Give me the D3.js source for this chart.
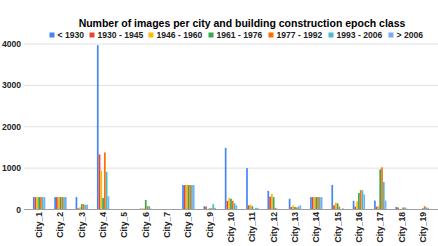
<!DOCTYPE html>
<html><head><meta charset="utf-8">
<script src="https://cdn.jsdelivr.net/npm/d3@7"></script>
<style>
html,body{margin:0;padding:0;background:#fff;}
svg{display:block;font-family:"Liberation Sans",Arial,sans-serif;}
</style></head>
<body><svg id="chart" width="438" height="246"></svg>
<script>
const cities = ["City_1","City_2","City_3","City_4","City_5","City_6","City_7","City_8","City_9","City_10","City_11","City_12","City_13","City_14","City_15","City_16","City_17","City_18","City_19"];
const epochs = ["< 1930","1930 - 1945","1946 - 1960","1961 - 1976","1977 - 1992","1993 - 2006","> 2006"];
const colors = ["#4285F4","#EA4335","#FBBC04","#34A853","#FF6D01","#46BDC6","#7BAAF7"];
const before1930 = [300,300,300,3970,8,20,5,590,80,1490,1000,450,260,300,590,210,215,60,5];
const e1930_1945 = [300,300,30,1330,6,20,4,590,70,210,100,310,60,300,100,70,70,50,5];
const e1946_1960 = [300,300,55,940,8,30,6,590,10,285,120,375,100,300,165,200,80,10,10];
const e1961_1976 = [300,300,130,280,6,230,5,590,30,260,80,300,60,300,150,400,970,15,30];
const e1977_1992 = [300,300,130,1380,8,80,6,590,30,210,10,40,50,300,70,470,1020,50,80];
const e1993_2006 = [300,300,110,910,6,80,4,590,130,150,40,20,70,300,10,465,665,50,50];
const after2006  = [300,300,120,320,5,20,5,590,40,100,40,10,100,300,30,365,215,20,40];
const series = [before1930,e1930_1945,e1946_1960,e1961_1976,e1977_1992,e1993_2006,after2006];
const yTicks = [0,1000,2000,3000,4000];
const title = "Number of images per city and building construction epoch class";

const svg = d3.select("#chart");
const x0 = d3.scaleBand().domain(cities).range([24,438]).paddingInner(0.42).paddingOuter(0.42);
const x1 = d3.scaleBand().domain(epochs).range([0,x0.bandwidth()]).paddingInner(0.05);
const y = d3.scaleLinear().domain([0,4000]).range([209.5,44]);

// gridlines
svg.append("g").selectAll("line").data(yTicks.filter(d=>d>0)).join("line")
  .attr("x1",24).attr("x2",438).attr("y1",d=>y(d)).attr("y2",d=>y(d))
  .attr("stroke","#e0e0e0").attr("stroke-width",1);

// y labels
svg.append("g").selectAll("text").data(yTicks).join("text")
  .attr("x",21).attr("y",d=>y(d)).attr("dy","0.35em").attr("text-anchor","end")
  .attr("font-size","8.6px").attr("font-weight","bold").attr("fill","#222")
  .text(d=>d);

// bars
const rows = cities.map((c,i)=>({city:c, vals:series.map((s,j)=>({epoch:epochs[j], v:s[i], color:colors[j]}))}));
svg.append("g").selectAll("g").data(rows).join("g")
  .attr("transform",d=>`translate(${x0(d.city)},0)`)
  .selectAll("rect").data(d=>d.vals).join("rect")
  .attr("x",d=>x1(d.epoch)).attr("width",x1.bandwidth())
  .attr("y",d=>y(d.v)).attr("height",d=>y(0)-y(d.v))
  .attr("fill",d=>d.color);

// baseline
svg.append("line").attr("x1",24).attr("x2",438).attr("y1",y(0)).attr("y2",y(0))
  .attr("stroke","#9e9e9e").attr("stroke-width",1);

// x labels
svg.append("g").selectAll("text").data(cities).join("text")
  .attr("transform",d=>`translate(${x0(d)+x0.bandwidth()/2},212) rotate(-90)`)
  .attr("dy","0.35em").attr("text-anchor","end")
  .attr("font-size","8.6px").attr("font-weight","bold").attr("fill","#222")
  .text(d=>d);

// title
svg.append("text").attr("x",242).attr("y",26.5).attr("text-anchor","middle")
  .attr("font-size","10.5px").attr("font-weight","bold").attr("fill","#000")
  .text(title);

// legend
const legX = [49.5,89.5,148.5,208.5,268.5,328.5,388.5];
const leg = svg.append("g").selectAll("g").data(epochs).join("g")
  .attr("transform",(d,i)=>`translate(${legX[i]},35)`);
leg.append("rect").attr("x",0).attr("y",-2.5).attr("width",5).attr("height",5)
  .attr("fill",(d,i)=>colors[i]);
leg.append("text").attr("x",8).attr("y",0).attr("dy","0.35em")
  .attr("font-size","8.6px").attr("font-weight","bold").attr("fill","#222")
  .text(d=>d);
</script></body></html>
